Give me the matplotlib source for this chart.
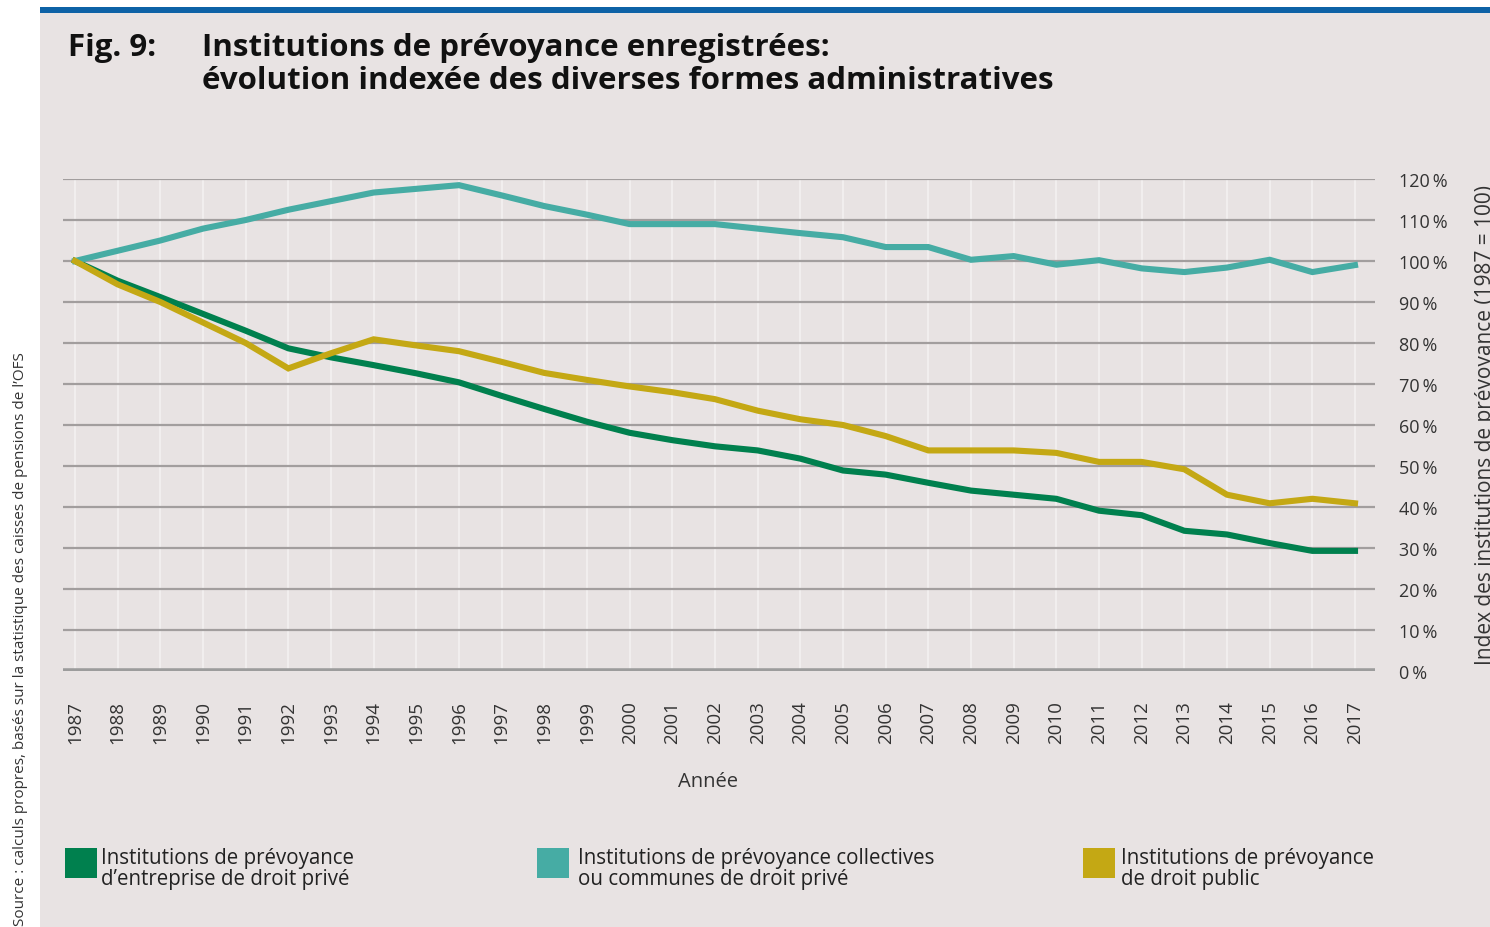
import matplotlib
matplotlib.use("Agg")
import matplotlib.pyplot as plt
from matplotlib.patches import Rectangle

years = list(range(1987, 2018))
entreprise = [100, 95.2, 91.2, 87.1, 83.0, 78.7, 76.5, 74.6, 72.6, 70.4,
              67.1, 63.9, 60.8, 58.1, 56.3, 54.8, 53.8, 51.8, 48.9, 47.9,
              45.9, 44.0, 43.0, 42.0, 39.1, 38.0, 34.2, 33.3, 31.2, 29.3, 29.3]
collectives = [100, 102.5, 105.0, 107.9, 110.0, 112.5, 114.6, 116.7, 117.6, 118.5,
               116.0, 113.4, 111.3, 109.0, 109.0, 109.0, 107.9, 106.8, 105.8, 103.4,
               103.4, 100.3, 101.2, 99.1, 100.2, 98.2, 97.3, 98.4, 100.3, 97.3, 99.0]
public = [100, 94.3, 90.0, 85.0, 80.0, 73.8, 77.5, 80.9, 79.4, 78.0,
          75.4, 72.7, 71.0, 69.4, 68.0, 66.3, 63.5, 61.4, 60.0, 57.3,
          53.8, 53.8, 53.8, 53.2, 51.0, 51.0, 49.2, 43.0, 40.9, 42.0, 40.9]
yticks = [0, 10, 20, 30, 40, 50, 60, 70, 80, 90, 100, 110, 120]
series_labels = ["Institutions de prévoyance\nd\u2019entreprise de droit privé",
                 "Institutions de prévoyance collectives\nou communes de droit privé",
                 "Institutions de prévoyance\nde droit public"]
colors = ["#00804e", "#46aca4", "#c4a814"]

FONT = ["Open Sans", "DejaVu Sans"]
plt.rcParams['font.family'] = FONT

W, H = 1490, 928
fig = plt.figure(figsize=(W / 100, H / 100), dpi=100)
fig.patch.set_facecolor("white")

def fx(x):
    return x / W

def fy(y):
    return 1 - y / H

bg = "#e8e3e3"
fig.patches.append(Rectangle((fx(40), 0), 1 - fx(40), fy(13), transform=fig.transFigure,
                             facecolor=bg, edgecolor="none", zorder=0))
fig.patches.append(Rectangle((fx(40), fy(14)), 1 - fx(40), fy(8) - fy(14), transform=fig.transFigure,
                             facecolor="#0d62a6", edgecolor="none", zorder=1))

fig.text(fx(68), fy(48), "Fig. 9:", fontsize=22.5, fontweight="bold", color="#111111",
         va="center", ha="left")
fig.text(fx(202), fy(48), "Institutions de prévoyance enregistrées:", fontsize=22.5,
         fontweight="bold", color="#111111", va="center", ha="left")
fig.text(fx(202), fy(81), "évolution indexée des diverses formes administratives", fontsize=22.5,
         fontweight="bold", color="#111111", va="center", ha="left")

x0, x1 = 63, 1375
y0, y1 = 180, 672
ax = fig.add_axes([fx(x0), fy(y1), fx(x1) - fx(x0), fy(y0) - fy(y1)])
ax.set_zorder(5)
ax.set_facecolor(bg)
px_per_year = (1355 - 75) / 30
ax.set_xlim(1987 - (75 - x0) / px_per_year, 2017 + (x1 - 1355) / px_per_year)
ax.set_ylim(0, 120)

for y in yticks[1:]:
    ax.axhline(y, color="#a29e9e", lw=1.6, zorder=1)
for yr in years:
    ax.axvline(yr, color="#f4f1f1", lw=1.2, zorder=0.5)
ax.axhline(0, color="#9c9c9c", lw=4, zorder=2)

for vals, c in zip([entreprise, collectives, public], colors):
    ax.plot(years, vals, color=c, lw=4.4, zorder=3, solid_joinstyle="miter")

for s in ax.spines.values():
    s.set_visible(False)

ax.yaxis.tick_right()
ax.set_yticks(yticks)
ax.set_yticklabels([f"{v}\u2009%" for v in yticks], fontsize=13, color="#333333", ha="left")
ax.tick_params(axis="y", length=0, pad=17)
ax.set_xticks(years)
ax.set_xticklabels([str(y) for y in years], rotation=90, fontsize=13.5, color="#333333",
                   va="top", ha="center")
ax.tick_params(axis="x", length=0, pad=21)

fig.text(fx(708), fy(782), "Année", fontsize=14.5, color="#333333", ha="center", va="center")
fig.text(fx(1475), fy(425), "Index des institutions de prévoyance (1987 = 100)", fontsize=15,
         color="#333333", rotation=90, ha="left", va="center")
fig.text(fx(21), fy(352), "Source : calculs propres, basés sur la statistique des caisses de pensions de l\u2019OFS",
         fontsize=11, color="#333333", rotation=90, ha="center", va="top")

leg_pos = [(65, 101), (537, 578), (1083, 1121)]
for (sx, tx), lab, c in zip(leg_pos, series_labels, colors):
    fig.patches.append(Rectangle((fx(sx), fy(879)), fx(32), fy(849) - fy(879),
                                 transform=fig.transFigure, facecolor=c, edgecolor="none"))
    fig.text(fx(tx), fy(869), lab, fontsize=14.8, color="#222222", ha="left", va="center",
             linespacing=1.0)

fig.savefig("out.png", dpi=100, facecolor=fig.get_facecolor())
